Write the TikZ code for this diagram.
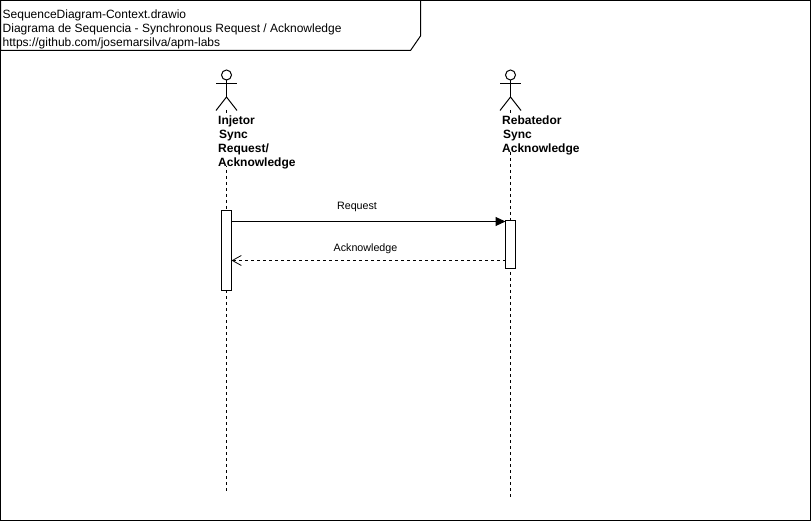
\documentclass[tikz,border=0pt]{standalone}
\usepackage{fontspec}
\setmainfont{Liberation Sans}
\usetikzlibrary{arrows.meta}
\tikzset{
  x=1pt,y=-1pt,
  ln/.style={draw=black,line width=1pt},
  life/.style={ln,dash pattern=on 3pt off 3pt},
  actbar/.style={draw=black,line width=1pt,fill=white,minimum width=10pt,inner sep=0pt,outer sep=0pt},
  head/.style={circle,draw=black,line width=1pt,fill=white,minimum size=10pt,inner sep=0pt},
  lbl/.style={font=\fontsize{12pt}{14pt}\selectfont\bfseries,align=left,fill=white,inner sep=0pt,anchor=north west,text depth=0pt},
  msg/.style={font=\fontsize{10.7pt}{12pt}\selectfont,inner sep=0pt},
  titlet/.style={font=\fontsize{12pt}{14pt}\selectfont,align=left,inner sep=0pt,anchor=north west},
}
\begin{document}
\begin{tikzpicture}
\useasboundingbox (0,0) rectangle (811,521);
% frame
\draw[ln] (0.5,0.5) rectangle (810.5,520);
\draw[ln] (0.5,0.5) -- (420.5,0.5) -- (420.5,36) -- (410.5,50.5) -- (0.5,50.5) -- cycle;
\node[titlet] (title) at (2.5,9.5) {SequenceDiagram-Context.drawio\\Diagrama de Sequencia - Synchronous Request / Acknowledge\\https://github.com/josemarsilva/apm-labs};
% lifelines
\coordinate (a1end) at (226.5,492);
\coordinate (a2end) at (510.5,498);
\coordinate (a1top) at (226.5,110);
\coordinate (a2top) at (510.5,110);
\draw[life] (a1top) -- (a1end);
\draw[life] (a2top) -- (a2end);
% actors
\node[head] (h1) at (226.5,75) {};
\draw[ln] (h1.south) -- (226.5,97) coordinate (b1);
\draw[ln] (216,83.5) -- (237,83.5);
\draw[ln] (216,110.5) -- (b1) -- (237,110.5);
\node[head] (h2) at (510.5,75) {};
\draw[ln] (h2.south) -- (510.5,97) coordinate (b2);
\draw[ln] (500,83.5) -- (521,83.5);
\draw[ln] (500,110.5) -- (b2) -- (521,110.5);
% labels
\node[lbl] (l1) at (218,115.5) {Injetor\\\hspace*{1pt}Sync\\Request/\\Acknowledge\rule[-3pt]{0pt}{3pt}};
\node[lbl] (l2) at (502,115.5) {Rebatedor\\\hspace*{1pt}Sync\\Acknowledge\rule[-3pt]{0pt}{3pt}};
% activations
\node[actbar,minimum height=80pt] (act1) at (226.5,250.5) {};
\node[actbar,minimum height=48pt] (act2) at (510.5,244.5) {};
% messages
\draw[ln,-{Triangle[length=10pt,width=9pt]}] (act1.east |- 0,221.5) -- (act2.west |- 0,221.5);
\draw[ln,dash pattern=on 3pt off 3pt,-{Straight Barb[length=9pt,width=10pt,line width=0.8pt]}] (act2.west |- 0,260.5) -- (act1.east |- 0,260.5);
\node[msg] (m1) at (357,207) {Request};
\node[msg] (m2) at (365.5,249) {Acknowledge};
\end{tikzpicture}
\end{document}
